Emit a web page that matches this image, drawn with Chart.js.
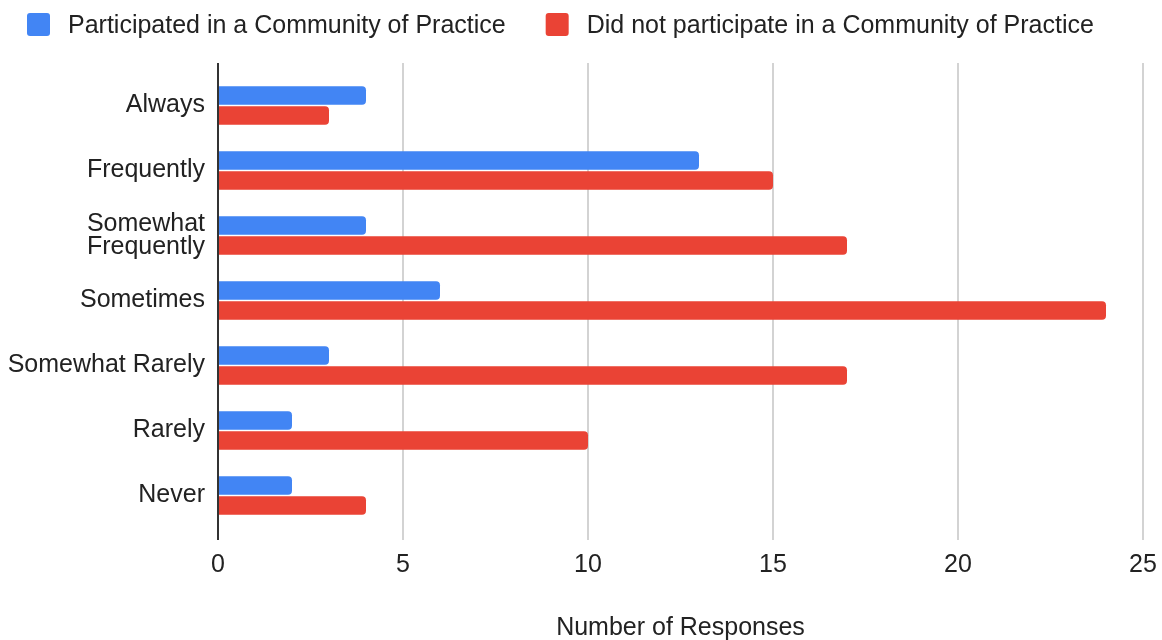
<!DOCTYPE html>
<html>
<head>
<meta charset="utf-8">
<script src="https://cdn.jsdelivr.net/npm/chart.js@4.4.1/dist/chart.umd.min.js"></script>
<style>
  html, body { margin: 0; padding: 0; background: #fff; }
  #wrap { width: 1162px; height: 640px; }
</style>
</head>
<body>
<div id="wrap"><canvas id="chart"></canvas></div>
<script>
// Datos del gráfico
const categories = ['Always', 'Frequently', ['Somewhat', 'Frequently'], 'Sometimes', 'Somewhat Rarely', 'Rarely', 'Never'];
const participated = [4, 13, 4, 6, 3, 2, 2];
const notParticipated = [3, 15, 17, 24, 17, 10, 4];
const xTicks = [0, 5, 10, 15, 20, 25];
const seriesNames = ['Participated in a Community of Practice', 'Did not participate in a Community of Practice'];
const seriesColors = ['#4285F4', '#EA4335'];
const axisTitle = 'Number of Responses';

const FONT = "'Liberation Sans', Arial, sans-serif";
Chart.defaults.font.family = FONT;
Chart.defaults.font.size = 25;
Chart.defaults.color = '#222';

// Líneas verticales de la cuadrícula (más largas que el área del gráfico)
const gridPlugin = {
  id: 'gridLines',
  beforeDatasetsDraw(chart) {
    const { ctx, chartArea, scales: { x } } = chart;
    ctx.save();
    ctx.lineWidth = 2;
    ctx.strokeStyle = '#d3d3d3';
    x.ticks.forEach(t => {
      if (t.value === 0) return;
      const px = Math.round(x.getPixelForValue(t.value));
      ctx.beginPath();
      ctx.moveTo(px, chartArea.top - 10);
      ctx.lineTo(px, chartArea.bottom + 12);
      ctx.stroke();
    });
    ctx.restore();
  },
  afterDatasetsDraw(chart) {
    const { ctx, chartArea, scales: { x } } = chart;
    const px = Math.round(x.getPixelForValue(0));
    ctx.save();
    ctx.lineWidth = 2;
    ctx.strokeStyle = '#333';
    ctx.beginPath();
    ctx.moveTo(px, chartArea.top - 10);
    ctx.lineTo(px, chartArea.bottom + 12);
    ctx.stroke();
    ctx.restore();
  }
};

// Leyenda dibujada a mano para igualar las posiciones
const legendPlugin = {
  id: 'topLegend',
  afterDraw(chart) {
    const ctx = chart.ctx;
    ctx.save();
    ctx.font = '25px ' + FONT;
    ctx.textBaseline = 'middle';
    ctx.textAlign = 'left';
    let x = 27;
    const y = 13;
    chart.data.datasets.forEach(ds => {
      ctx.fillStyle = ds.backgroundColor;
      ctx.beginPath();
      ctx.roundRect(x, y, 23, 23, 3);
      ctx.fill();
      ctx.fillStyle = '#222';
      ctx.fillText(ds.label, x + 41, y + 13);
      x += 41 + ctx.measureText(ds.label).width + 40;
    });
    ctx.restore();
  }
};

new Chart(document.getElementById('chart'), {
  type: 'bar',
  data: {
    labels: categories,
    datasets: [
      { label: seriesNames[0], data: participated, backgroundColor: seriesColors[0] },
      { label: seriesNames[1], data: notParticipated, backgroundColor: seriesColors[1] }
    ]
  },
  options: {
    indexAxis: 'y',
    responsive: true,
    maintainAspectRatio: false,
    animation: false,
    layout: { padding: { top: 73, left: 0, right: 0, bottom: 0 } },
    datasets: {
      bar: { categoryPercentage: 0.62, barPercentage: 0.92, borderRadius: 4, borderSkipped: 'start' }
    },
    plugins: {
      legend: { display: false },
      tooltip: { enabled: false }
    },
    scales: {
      x: {
        min: 0,
        max: 25,
        afterBuildTicks: s => { s.ticks = xTicks.map(v => ({ value: v })); },
        afterFit: s => { s.height = 112; s.paddingLeft = 0; s.paddingRight = 19; },
        grid: { display: false, drawTicks: false },
        border: { display: false },
        ticks: { padding: 22, color: '#222', maxRotation: 0 },
        title: { display: true, text: axisTitle, color: '#222', padding: { top: 0, bottom: -3 } }
      },
      y: {
        afterFit: s => { s.width = 218; },
        grid: { display: false, drawTicks: false },
        border: { display: false },
        ticks: { padding: 13, color: '#222', font: { lineHeight: 0.92 } }
      }
    }
  },
  plugins: [gridPlugin, legendPlugin]
});
</script>
</body>
</html>
